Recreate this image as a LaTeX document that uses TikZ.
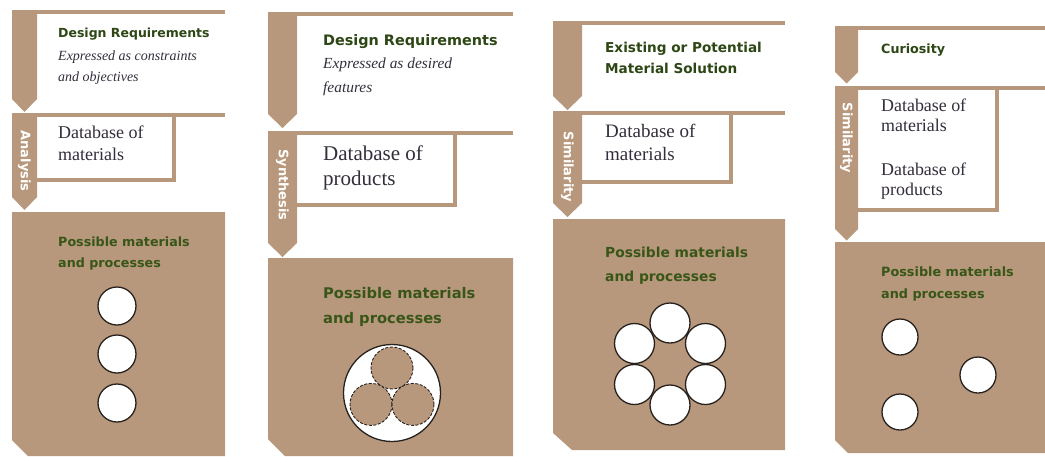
\documentclass[tikz,border=0pt]{standalone}
\usepackage{fontspec}
\setmainfont{Liberation Serif}
\newfontfamily\heavy{DejaVu Sans}
\definecolor{tanc}{RGB}{184,152,124}
\definecolor{hgreen}{RGB}{44,70,20}
\definecolor{pgreen}{RGB}{56,86,24}
\definecolor{ink}{RGB}{52,46,60}
\definecolor{ring}{RGB}{40,34,30}

\begin{document}
\begin{tikzpicture}[
    x=1pt, y=-1pt,
    bar/.style={fill=tanc},
    rim/.style={draw=tanc, line width=3.5pt},
    hd/.style 2 args={anchor=north west, inner sep=0pt, align=left, text=hgreen, font=\heavy\bfseries\fontsize{#1pt}{#2pt}\selectfont},
    pm/.style 2 args={anchor=north west, inner sep=0pt, align=left, text=pgreen, font=\heavy\bfseries\fontsize{#1pt}{#2pt}\selectfont},
    sub/.style 2 args={anchor=north west, inner sep=0pt, align=left, text=ink, font=\itshape\fontsize{#1pt}{#2pt}\selectfont},
    db/.style 2 args={anchor=north west, inner sep=0pt, align=left, text=ink, font=\fontsize{#1pt}{#2pt}\selectfont},
    tag/.style={inner sep=0pt, text=white, rotate=-90, font=\heavy\bfseries\fontsize{13pt}{13pt}\selectfont},
    dot/.style={circle, draw=ring, line width=1.3pt, fill=white, inner sep=0pt, minimum size=#1},
    part/.style={circle, draw=ring, line width=0.9pt, dash pattern=on 3pt off 1.6pt, fill=tanc, inner sep=0pt, minimum size=42pt}
]
\fill[white] (0,0) rectangle (1045,456);
\useasboundingbox (0,0) rectangle (1045,456);

% analysis
\fill[bar] (12,10) rectangle (225,14);
\fill[bar] (12,10) -- (37,10) -- (37,99) -- (24.5,112) -- (12,99) -- cycle;
\fill[bar] (12,113) rectangle (225,117);
\draw[rim] (174,115) |- (37,180);
\fill[bar] (12,113) -- (37,113) -- (37,197) -- (24.5,210) -- (12,197) -- cycle;
\fill[bar] (12,212) -- (225,212) -- (225,456) -- (28,456) -- (12,440) -- cycle;
\node[tag] (tagA) at (24.5,161) {Analysis};
\node[hd={12.5}{15}] (reqA) at (58,27.5) {Design Requirements};
\node[sub={14}{21}] (expA) at (58,50.4) {Expressed as constraints\\and objectives};
\node[db={18}{22}] (dbA) at (58,125.7) {Database of\\materials};
\node[pm={12.7}{21}] (pmA) at (58,236.3) {Possible materials\\and processes};
\node[dot=38pt] (a1) at (117,306) {};
\node[dot=38pt] (a2) at (117,354) {};
\node[dot=38pt] (a3) at (117,403) {};

% synthesis
\fill[bar] (268,12) rectangle (513,16);
\fill[bar] (268,12) -- (297,12) -- (297,114) -- (282.5,128) -- (268,114) -- cycle;
\fill[bar] (268,131) rectangle (513,135);
\draw[rim] (455,133) |- (297,205);
\fill[bar] (268,131) -- (297,131) -- (297,243) -- (282.5,257) -- (268,243) -- cycle;
\fill[bar] (268,258) -- (513,258) -- (513,456) -- (285,456) -- (268,439) -- cycle;
\node[tag] (tagS) at (282.5,185) {Synthesis};
\node[hd={14.4}{17}] (reqS) at (323,34) {Design Requirements};
\node[sub={15.4}{24}] (expS) at (323,57.5) {Expressed as desired\\features};
\node[db={21}{25}] (dbS) at (323,145.7) {Database of\\products};
\node[pm={14.7}{25}] (pmS) at (323,286.8) {Possible materials\\and processes};
\node[dot=97pt] (whole) at (392,393) {};
\node[part] (p1) at (392,368) {};
\node[part] (p2) at (371,404.4) {};
\node[part] (p3) at (413,404.4) {};

% similarity, existing solution
\fill[bar] (553,21) rectangle (785,25);
\fill[bar] (553,21) -- (582,21) -- (582,96) -- (567.5,110) -- (553,96) -- cycle;
\fill[bar] (553,111) rectangle (785,115);
\draw[rim] (731,113) |- (582,182);
\fill[bar] (553,111) -- (582,111) -- (582,203) -- (567.5,217) -- (553,203) -- cycle;
\fill[bar] (553,219) -- (785,219) -- (785,450) -- (572,450) -- (553,433) -- cycle;
\node[tag] (tagE) at (567.5,167) {Similarity};
\node[hd={13.6}{21}] (solE) at (605,41.7) {Existing or Potential\\Material Solution};
\node[db={19}{23}] (dbE) at (605,124) {Database of\\materials};
\node[pm={13.8}{24}] (pmE) at (605,246.5) {Possible materials\\and processes};
\foreach \a [count=\i] in {90,30,-30,-90,-150,150}
    \node[dot=40pt] (e\i) at ([shift={(\a:41)}]670,364) {};

% similarity, curiosity
\fill[bar] (835,26) rectangle (1045,30);
\fill[bar] (835,26) -- (858,26) -- (858,72) -- (846.5,83.5) -- (835,72) -- cycle;
\fill[bar] (835,86) rectangle (1045,90);
\draw[rim] (997,88) |- (858,210);
\fill[bar] (835,86) -- (858,86) -- (858,229) -- (846.5,240.5) -- (835,229) -- cycle;
\fill[bar] (835,242) -- (1045,242) -- (1045,453) -- (848,453) -- (835,440) -- cycle;
\node[tag] (tagC) at (846.5,138) {Similarity};
\node[hd={12.7}{15}] (curC) at (881,43.3) {Curiosity};
\node[db={17.9}{20}] (dbC1) at (881,98.8) {Database of\\materials};
\node[db={17.9}{20}] (dbC2) at (881,162.8) {Database of\\products};
\node[pm={12.8}{22}] (pmC) at (881,266.3) {Possible materials\\and processes};
\node[dot=36pt] (c1) at (900,337) {};
\node[dot=36pt] (c2) at (978,375) {};
\node[dot=36pt] (c3) at (900,412) {};
\end{tikzpicture}
\end{document}
